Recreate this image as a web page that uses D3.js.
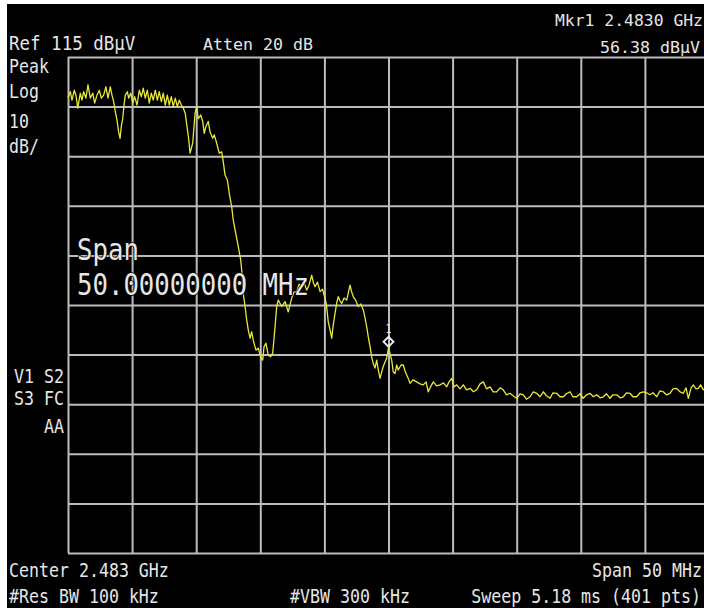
<!DOCTYPE html>
<head>
    <meta charset="utf-8">
    <title>Spectrum 2.483 GHz</title>
    <script src="https://cdn.jsdelivr.net/npm/d3@7"></script>
    <style>
        body { margin: 0; background: #fff; }
        svg { display: block; }
        text { font-family: "DejaVu Sans Mono", "Liberation Mono", monospace; fill: #e6e6e6; }
    </style>
</head>
<body>
<div id="screen"></div>
<script>
// trace (MHz, dBuV)
const freq = [
  2458.00,2458.18,2458.31,2458.49,2458.62,2458.76,2458.96,2459.09,2459.22,2459.40,
  2459.56,2459.74,2459.93,2460.08,2460.26,2460.44,2460.60,2460.78,2460.96,2461.12,
  2461.30,2461.43,2461.56,2461.69,2461.82,2461.95,2462.06,2462.16,2462.27,2462.37,
  2462.47,2462.63,2462.73,2462.89,2463.05,2463.20,2463.38,2463.56,2463.72,2463.87,
  2464.03,2464.19,2464.34,2464.50,2464.65,2464.81,2464.97,2465.12,2465.28,2465.43,
  2465.59,2465.75,2465.90,2466.06,2466.21,2466.37,2466.53,2466.68,2466.84,2466.99,
  2467.15,2467.28,2467.41,2467.52,2467.73,2467.91,2468.04,2468.16,2468.35,2468.51,
  2468.63,2468.76,2468.94,2469.08,2469.29,2469.41,2469.60,2469.80,2469.99,2470.11,
  2470.25,2470.43,2470.58,2470.77,2470.89,2471.08,2471.28,2471.47,2471.60,2471.67,
  2471.81,2471.94,2472.06,2472.20,2472.33,2472.45,2472.66,2472.84,2473.03,2473.19,
  2473.29,2473.44,2473.62,2473.81,2473.97,2474.15,2474.28,2474.40,2474.67,2474.93,
  2475.18,2475.45,2475.63,2475.84,2476.02,2476.23,2476.41,2476.62,2476.80,2477.01,
  2477.15,2477.27,2477.46,2477.66,2477.85,2478.05,2478.16,2478.30,2478.44,2478.57,
  2478.69,2478.83,2478.96,2479.08,2479.22,2479.35,2479.53,2479.74,2479.88,2480.00,
  2480.13,2480.25,2480.43,2480.64,2480.85,2481.03,2481.17,2481.30,2481.44,2481.56,
  2481.69,2481.81,2481.95,2482.08,2482.20,2482.34,2482.47,2482.59,2482.73,2482.86,
  2483.00,2483.14,2483.25,2483.37,2483.51,2483.64,2483.76,2483.98,2484.15,2484.29,
  2484.42,2484.56,2484.68,2484.91,2485.20,2485.46,2485.71,2485.93,2486.10,2486.32,
  2486.50,2486.75,2487.02,2487.29,2487.54,2487.72,2487.93,2488.11,2488.32,2488.58,
  2488.84,2489.08,2489.36,2489.63,2489.88,2490.14,2490.40,2490.64,2490.92,2491.17,
  2491.44,2491.70,2491.95,2492.20,2492.48,2492.71,2493.00,2493.26,2493.51,2493.76,
  2494.04,2494.30,2494.56,2494.82,2495.08,2495.32,2495.60,2495.83,2496.12,2496.38,
  2496.64,2496.88,2497.16,2497.39,2497.68,2497.94,2498.19,2498.44,2498.72,2498.98,
  2499.24,2499.50,2499.76,2500.00,2500.28,2500.51,2500.80,2501.06,2501.32,2501.56,
  2501.84,2502.07,2502.36,2502.62,2502.88,2503.13,2503.40,2503.63,2503.92,2504.18,
  2504.44,2504.68,2504.96,2505.19,2505.48,2505.74,2506.00,2506.21,2506.39,2506.60,
  2506.78,2506.99,2507.17,2507.34,2507.56,2507.77,2508.00
];
const level = [
  106.9,108.0,106.3,108.3,107.3,104.7,107.7,106.3,108.0,106.7,
  109.4,106.7,107.7,105.7,107.3,108.3,106.7,107.3,109.0,106.7,
  109.0,107.3,106.0,104.0,102.3,99.9,98.6,101.0,102.6,105.3,
  107.3,108.0,106.7,107.7,105.7,107.0,105.3,108.3,107.0,108.7,
  106.7,108.3,105.7,107.7,106.3,108.3,106.3,108.0,106.0,107.7,
  105.3,107.3,105.3,107.0,105.0,106.7,105.0,106.3,105.3,104.7,
  103.6,101.0,98.6,95.6,97.7,103.7,105.0,102.6,103.3,102.0,
  99.6,101.0,102.0,99.9,98.6,99.3,97.6,95.6,95.9,93.9,
  91.2,90.2,87.5,84.8,82.1,79.5,76.8,74.1,70.7,67.4,
  64.7,62.0,60.0,58.3,59.6,57.9,55.9,56.3,54.6,53.9,
  56.6,57.3,54.9,54.6,55.3,60.6,64.7,66.0,64.7,65.7,
  63.6,66.4,67.6,67.7,69.2,68.7,69.6,68.0,69.0,71.0,
  69.4,68.7,69.6,67.7,68.2,66.4,65.0,61.6,60.0,58.3,
  61.0,63.3,65.4,66.7,65.8,65.3,66.4,66.0,67.6,69.0,
  67.6,66.7,66.0,64.7,65.2,64.0,62.4,60.6,58.3,56.6,
  54.5,53.2,52.3,53.9,51.9,50.2,51.5,52.6,53.5,54.3,
  56.4,55.0,53.9,51.5,51.2,52.9,51.9,52.9,52.9,51.7,
  50.9,50.1,49.2,49.9,49.5,49.1,48.9,49.5,47.5,48.7,
  49.5,48.7,48.9,49.3,48.5,49.5,50.2,48.5,48.9,48.1,
  48.9,47.9,48.2,47.5,47.9,49.1,49.5,48.1,48.5,47.5,
  47.5,48.3,47.9,46.9,47.2,46.7,46.2,47.1,46.9,46.0,
  46.5,47.5,47.2,46.5,47.5,46.7,46.2,47.3,47.2,46.5,
  46.5,47.1,47.5,46.5,46.5,47.1,46.2,46.9,47.2,46.5,
  46.9,46.3,46.5,47.1,46.2,46.9,46.9,46.3,46.5,47.3,
  47.2,46.5,46.5,47.3,47.5,47.3,46.9,47.3,46.5,47.7,
  47.5,46.9,47.2,48.1,48.2,47.5,47.2,48.3,46.2,48.3,
  48.9,48.1,48.2,48.9,47.9,48.3,47.9
];

// marker 1
const markerFreq = 2483.0;
const markerLevel = 56.38;

// annotation texts
const topLeft = ["Peak", "Log", "10", "dB/"];
const midLeft = ["V1  S2", "S3  FC", "AA"];

const W = 704, H = 608;
const svg = d3.select("#screen").append("svg").attr("width", W).attr("height", H);

svg.append("rect").attr("x", 7).attr("y", 4).attr("width", W - 7).attr("height", H - 4).attr("fill", "#000");

const gLeft = 68, gRight = 709, gTop = 57, gBottom = 553;
const x = d3.scaleLinear().domain([2458, 2508]).range([gLeft, gRight]);
const y = d3.scaleLinear().domain([15, 115]).range([gBottom, gTop]);

// graticule: 10 x 10 divisions
const gx = svg.append("g").attr("transform", `translate(0,${gBottom})`)
    .call(d3.axisBottom(x).tickValues(d3.range(2458, 2508.01, 5)).tickSize(-(gBottom - gTop)).tickFormat(""));
const gy = svg.append("g").attr("transform", `translate(${gLeft},0)`)
    .call(d3.axisLeft(y).tickValues(d3.range(15, 115.01, 10)).tickSize(-(gRight - gLeft)).tickFormat(""));
[gx, gy].forEach(g => {
    g.select(".domain").remove();
    g.selectAll("line").attr("stroke", "#bcbcbc").attr("stroke-width", 2);
});

// trace
const pts = freq.map((f, i) => [f, level[i]]);
svg.append("path")
    .datum(pts)
    .attr("fill", "none")
    .attr("stroke", "#e8e83c")
    .attr("stroke-width", 1.3)
    .attr("stroke-linejoin", "round")
    .attr("d", d3.line().x(d => x(d[0])).y(d => y(d[1])));

// marker diamond + number
const mx = x(markerFreq), my = y(markerLevel) - 6;
svg.append("path")
    .attr("d", `M${mx},${my - 5}L${mx + 5},${my}L${mx},${my + 5}L${mx - 5},${my}Z`)
    .attr("fill", "none").attr("stroke", "#f0f0f0").attr("stroke-width", 1.8);

function label(px, py, str, anchor, size, sy) {
    return svg.append("text")
        .attr("transform", `translate(${px},${py}) scale(1,${sy || 1.2})`)
        .attr("text-anchor", anchor || "start")
        .attr("font-size", size || 16.6)
        .text(str);
}

label(mx, my - 9, "1", "middle", 10, 1.3);

label(9, 50, "Ref 115 dBµV", "start", 17.5, 1.15);
label(203, 50, "Atten 20 dB", "start", 16.6, 1.0);
label(703, 26, "Mkr1  2.4830 GHz", "end", 16.4, 1.0);
label(700, 53, "56.38 dBµV", "end", 16.6, 1.0);

const tlY = [73, 98, 128, 153];
topLeft.forEach((s, i) => label(9, tlY[i], s));
const mlY = [383, 405, 433];
midLeft.forEach((s, i) => label(64, mlY[i], s, "end"));

label(9, 577, "Center 2.483 GHz");
label(702, 577, "Span 50 MHz", "end");
label(9, 603, "#Res BW 100 kHz");
label(290, 603, "#VBW 300 kHz");
label(701, 603, "Sweep 5.18 ms (401 pts)", "end");

// big span readout
label(77, 260, "Span", "start", 25.7, 1.15).attr("fill", "#fafafa").attr("stroke", "#000").attr("stroke-width", 1.5).attr("paint-order", "stroke");
label(77, 295, "50.00000000 MHz", "start", 25.7, 1.15).attr("fill", "#fafafa").attr("stroke", "#000").attr("stroke-width", 1.5).attr("paint-order", "stroke");
</script>
</body>
</html>
